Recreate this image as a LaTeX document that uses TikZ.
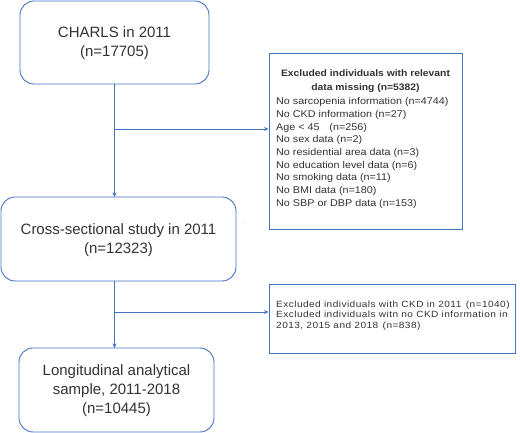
\documentclass[tikz,border=0pt]{standalone}
\usepackage{fontspec}
\setmainfont{Liberation Sans}
\newfontfamily\sidefont{Liberation Sans}[FakeStretch=1.1]
\newfontfamily\smallfont{Liberation Sans}[LetterSpace=5,FakeStretch=1.12]
\usetikzlibrary{arrows.meta}
\definecolor{lineblue}{HTML}{4472C4}
\definecolor{txt}{HTML}{333333}
\begin{document}
\begin{tikzpicture}[x=1pt,y=1pt,
  mainbox/.style={draw=lineblue, line width=0.9pt, rounded corners=14pt, fill=white},
  sidebox/.style={draw=lineblue, line width=0.9pt, fill=white},
  maintext/.style={align=center, font=\fontsize{15}{19}\selectfont, text=txt, inner sep=0pt},
  sidetext/.style={align=left, font=\sidefont\fontsize{9.8}{12.7}\selectfont, text=txt, inner sep=0pt, anchor=north west},
  smalltext/.style={align=left, font=\smallfont\fontsize{9}{10.6}\selectfont, text=txt, inner sep=0pt, anchor=north west},
  conn/.style={draw=lineblue, line width=0.9pt},
  arr/.style={conn, -{Stealth[length=4.5pt,width=4pt]}}]
\useasboundingbox (0,0) rectangle (520,433);
% main boxes
\draw[mainbox] (20,432) rectangle (209,349);
\node (b1) [minimum width=189pt, minimum height=83pt, inner sep=0pt] at (114.5,390.5) {};
\node (b1t) [maintext] at (114.5,390) {CHARLS in 2011\\(n=17705)};
\draw[mainbox] (1,236) rectangle (236,152);
\node (b2) [minimum width=235pt, minimum height=84pt, inner sep=0pt] at (118.5,194) {};
\node (b2t) [maintext] at (118.5,193) {Cross-sectional study in 2011\\(n=12323)};
\draw[mainbox] (19,85) rectangle (214,1);
\node (b3) [minimum width=195pt, minimum height=84pt, inner sep=0pt] at (116.5,43) {};
\node (b3t) [maintext] at (116.5,42) {Longitudinal analytical\\sample, 2011-2018\\(n=10445)};
% side boxes
\node (r1) [sidebox, minimum width=193pt, minimum height=176pt, inner sep=0pt] at (365.5,292) {};
\node (r1h) [align=center, font=\sidefont\bfseries\fontsize{9.4}{14}\selectfont, text=txt, inner sep=0pt] at (365.5,352) {Excluded individuals with relevant\\data missing (n=5382)};
\node (r1t) [sidetext] at (276,335.5) {No sarcopenia information (n=4744)\\No CKD information (n=27)\\Age < 45\quad(n=256)\\No sex data (n=2)\\No residential area data (n=3)\\No education level data (n=6)\\No smoking data (n=11)\\No BMI data (n=180)\\No SBP or DBP data (n=153)};
\node (r2) [sidebox, minimum width=246pt, minimum height=69pt, inner sep=0pt] at (392,114.5) {};
\node (r2t) [smalltext] at (276,132.5) {Excluded individuals with CKD in 2011\enspace(n=1040)\\Excluded individuals witn no CKD information in\\2013, 2015 and 2018\enspace(n=838)};
% connectors
\coordinate (top1) at (114.5,349);
\coordinate (bot2) at (114.5,236);
\coordinate (top2) at (114.5,152);
\coordinate (bot3) at (114.5,85);
\coordinate (j1) at (114.5,304);
\coordinate (j2) at (114.5,121);
\draw[arr] (top1) -- (bot2);
\draw[arr] (top2) -- (bot3);
\draw[arr] (j1) -- (j1 -| r1.west);
\draw[arr] (j2) -- (j2 -| r2.west);
\fill[lineblue!60] (243,211) circle (0.5pt);
\end{tikzpicture}
\end{document}
